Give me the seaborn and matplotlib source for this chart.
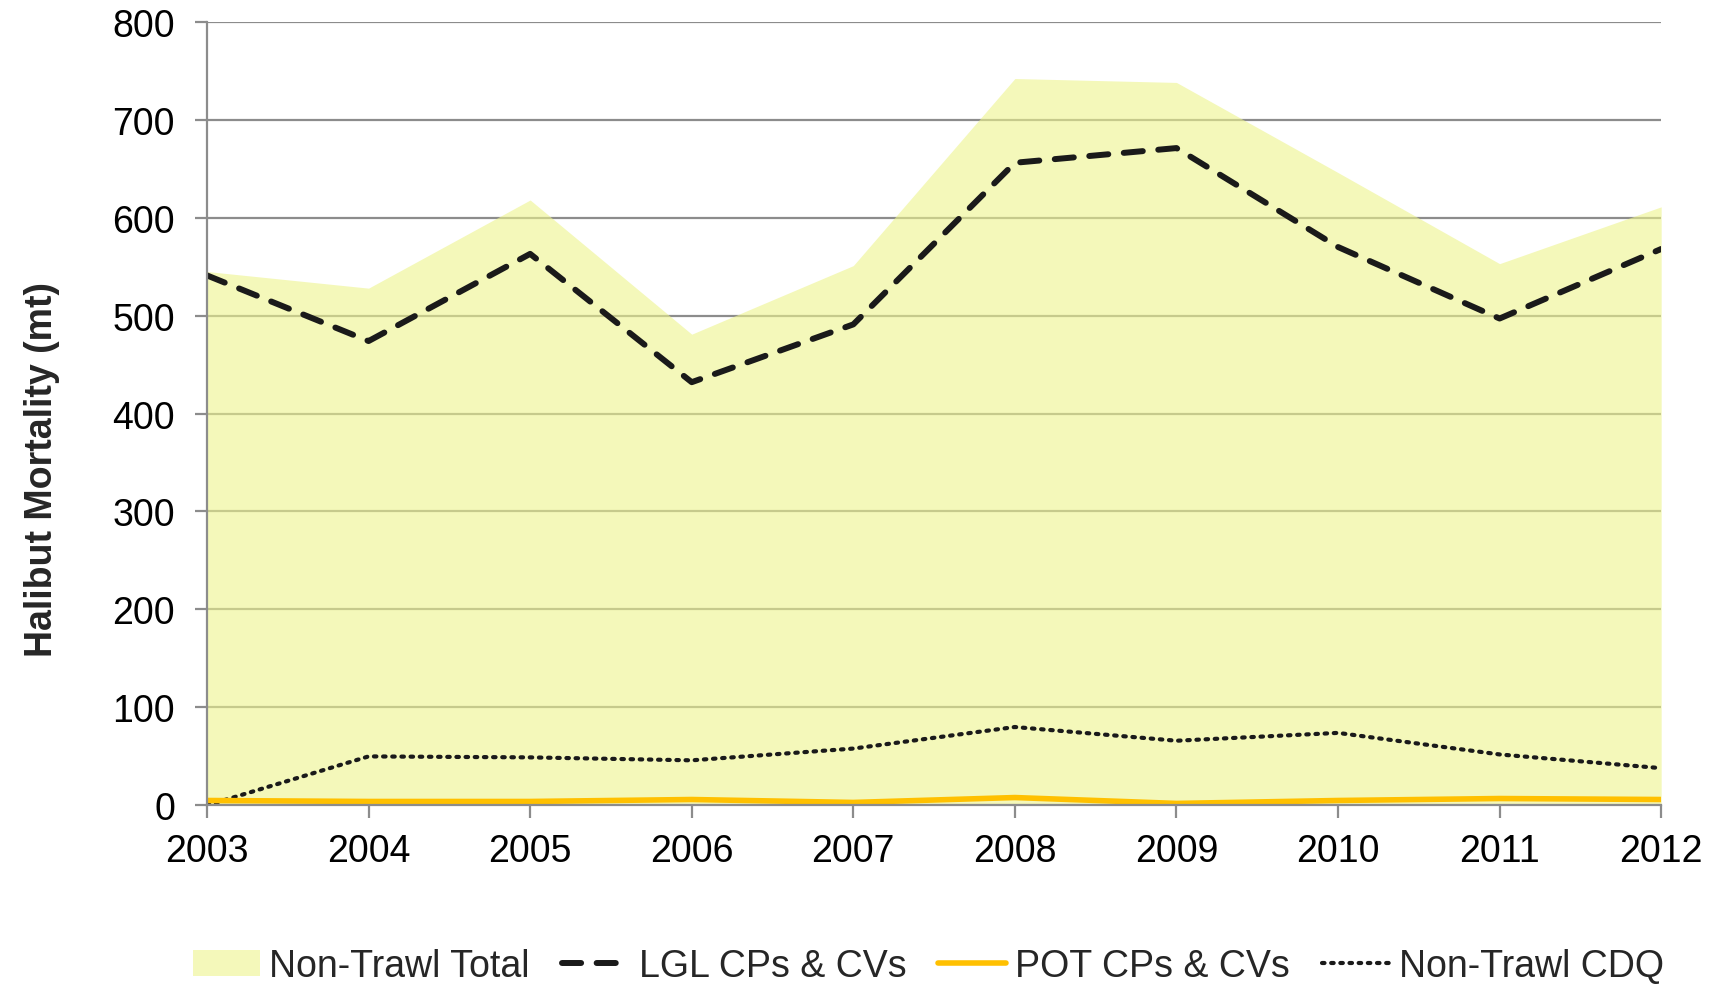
import numpy as np
import pandas as pd
import matplotlib
matplotlib.use("Agg")
import matplotlib.pyplot as plt
import seaborn as sns
from matplotlib.patches import Patch
from matplotlib.lines import Line2D

# data
years = [2003, 2004, 2005, 2006, 2007, 2008, 2009, 2010, 2011, 2012]
non_trawl_total = [545, 528, 618, 481, 551, 742, 738, 646, 553, 611]
lgl_cps_cvs = [541, 474, 563, 432, 491, 656, 671, 570, 497, 568]
pot_cps_cvs = [5, 4, 4, 6, 3, 8, 2, 5, 7, 6]
non_trawl_cdq = [0, 50, 49, 46, 58, 80, 66, 74, 52, 38]

DAT = pd.DataFrame({
    "year": years,
    "total": non_trawl_total,
    "lgl": lgl_cps_cvs,
    "pot": pot_cps_cvs,
    "cdq": non_trawl_cdq,
})

sns.set_theme(style="white")
plt.rcParams['font.family'] = ['Liberation Sans', 'DejaVu Sans']

fig = plt.figure(figsize=(17.25, 9.87), dpi=100)
ax = fig.add_axes([0.12, 0.183, 0.843, 0.794])

fill_col = (0.928, 0.955, 0.548, 0.6)
gold = '#FFC000'

# grid first, area over it (semi transparent), then lines
ax.set_axisbelow(True)
ax.yaxis.grid(True, color='#8c8c8c', lw=1.6)
ax.fill_between(DAT["year"], 0, DAT["total"], color=fill_col, lw=0, zorder=2)

sns.lineplot(data=DAT, x="year", y="cdq", ax=ax, color='k', lw=3,
             linestyle=(0, (0.6, 1.6)), dash_capstyle='round', zorder=3)
sns.lineplot(data=DAT, x="year", y="pot", ax=ax, color=gold, lw=4, zorder=4)
sns.lineplot(data=DAT, x="year", y="lgl", ax=ax, color='k', lw=4.3,
             linestyle=(0, (3.2, 2.6)), dash_capstyle='round', zorder=5)

ax.set_xlim(2003, 2012)
ax.set_ylim(0, 800)
ax.set_xticks(years)
ax.set_xticklabels([str(y) for y in years])
ax.set_yticks(range(0, 801, 100))

for s in ['top', 'right']:
    ax.spines[s].set_visible(False)
for s in ['left', 'bottom']:
    ax.spines[s].set_color('#8c8c8c')
    ax.spines[s].set_linewidth(1.6)
    ax.spines[s].set_zorder(6)

ax.tick_params(axis='both', direction='out', length=9, width=1.6, color='#8c8c8c',
               labelsize=27, labelcolor='black')
ax.tick_params(axis='x', pad=11, bottom=True)
ax.tick_params(axis='y', pad=14, left=True)

ax.set_xlabel("")
ax.set_ylabel("Halibut Mortality (mt)", fontsize=27, fontweight='bold', labelpad=38, y=0.43)

handles = [
    Patch(facecolor=fill_col, edgecolor='none'),
    Line2D([], [], color='k', lw=4.3, linestyle=(0, (3.2, 2.6)), dash_capstyle='round'),
    Line2D([], [], color=gold, lw=4),
    Line2D([], [], color='k', lw=3, linestyle=(0, (0.6, 1.6)), dash_capstyle='round'),
]
labels = ["Non-Trawl Total", "LGL CPs & CVs", "POT CPs & CVs", "Non-Trawl CDQ"]
fig.legend(handles, labels, loc='center', bbox_to_anchor=(0.538, 0.02), ncol=4,
           frameon=False, fontsize=27, handlelength=1.8, handletextpad=0.25,
           columnspacing=0.85)

fig.savefig("out.png", dpi=100)
